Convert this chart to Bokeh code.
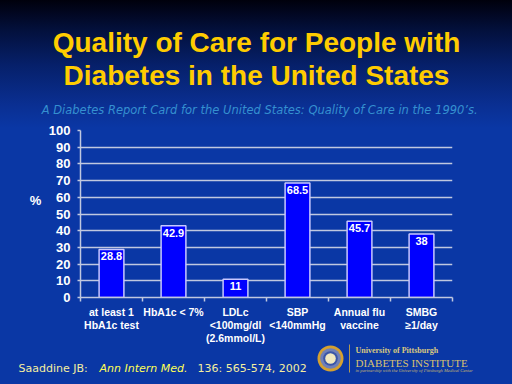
from bokeh.plotting import figure
from bokeh.models import Range1d, LinearAxis, FixedTicker
from bokeh.embed import file_html
from bokeh.resources import INLINE
from bokeh.core.properties import value

# ---------------- data ----------------
title_lines = ["Quality of Care for People with", "Diabetes in the United States"]
subtitle = "A Diabetes Report Card for the United States:  Quality of Care in the 1990\u2019s."
categories = ["at least 1\nHbA1c test", "HbA1c < 7%", "LDLc\n<100mg/dl\n(2.6mmol/L)",
              "SBP\n<140mmHg", "Annual flu\nvaccine", "SMBG\n\u22651/day"]
percent = [28.8, 42.9, 11, 68.5, 45.7, 38]
value_labels = [f"{v:g}" for v in percent]
y_ticks = list(range(0, 101, 10))
y_label = "%"
citation_author = "Saaddine JB:"
citation_journal = "Ann Intern Med."
citation_ref = "136: 565-574, 2002"
logo_lines = ["University of Pittsburgh", "DIABETES INSTITUTE",
              "in partnership with the University of Pittsburgh Medical Center"]

n = len(categories)
centers = [i + 0.5 for i in range(n)]   # bar slot centres
bounds = list(range(n + 1))             # slot boundaries (tick marks)

# ---------------- layout / style ----------------
W, H = 512, 384
FL, FR, FT, FB = 80, 452, 130, 297      # chart frame edges in page pixels
BG = "#0a37a5"
GRID = "#c0c8e0"
SANS = value("Liberation Sans")
SERIF = value("Liberation Serif")
DEJ = value("DejaVu Sans")

css_bg = ("linear-gradient(to bottom, #00000c 0px, #03103c 30px, #06206a 65px, "
          "#0a2f92 105px, " + BG + " 128px, " + BG + " 100%)")

# ---------- background page: headline, subtitle, citation, logo ----------
bg = figure(width=W, height=H, x_range=Range1d(0, W), y_range=Range1d(H, 0),
            x_axis_location=None, y_axis_location=None, output_backend="svg",
            toolbar_location=None, min_border=0, background_fill_color=None,
            border_fill_color=None, outline_line_color=None)
bg.grid.visible = False
bg.styles = {"background": css_bg}

bg.text(x=[256, 256], y=[42, 75], text=title_lines, text_font=SANS,
        text_font_style="bold", text_font_size="28px", text_color="#ffcc00",
        text_align="center", text_baseline="alphabetic")
bg.text(x=[261], y=[109], text=[subtitle], text_font=DEJ, text_font_style="italic",
        text_font_size="11.5px", text_color="#3590d0", text_align="center",
        text_baseline="alphabetic")
bg.text(x=[35], y=[200], text=[y_label], text_font=SANS, text_font_style="bold",
        text_font_size="13px", text_color="white", text_align="center",
        text_baseline="middle")
bg.text(x=[18], y=[368], text=[citation_author], text_font=DEJ,
        text_font_size="11px", text_color="#f4eea0", text_baseline="alphabetic")
bg.text(x=[99], y=[368], text=[citation_journal], text_font=DEJ,
        text_font_style="italic", text_font_size="11px", text_color="#ffff55",
        text_baseline="alphabetic")
bg.text(x=[197], y=[368], text=[citation_ref], text_font=DEJ,
        text_font_size="11px", text_color="#f4eea0", text_baseline="alphabetic")
# logo seal (decoration)
for r, c in [(13, "#d4a030"), (10.3, "#7080b8"), (7.3, "#3a55a8"), (5.3, "#f0e8c0")]:
    bg.circle(x=[330], y=[358], radius=r, fill_color=c, line_color=None)
bg.segment(x0=[349], y0=[344], x1=[349], y1=[372], line_color="#b09850", line_width=1)
bg.text(x=[355], y=[350], text=[logo_lines[0]], text_font=SERIF, text_font_style="bold",
        text_font_size="8px", text_color="#d8c880", text_baseline="alphabetic")
bg.text(x=[355], y=[362], text=[logo_lines[1]], text_font=SERIF,
        text_font_size="11px", text_color="#d8c070", text_baseline="alphabetic")
bg.text(x=[355], y=[370], text=[logo_lines[2]], text_font=SERIF, text_font_style="italic",
        text_font_size="4.6px", text_color="#c8b870", text_baseline="alphabetic")

# ---------------- chart, overlaid on the page ----------------
p = figure(width=W, height=H, x_range=Range1d(0, n), y_range=Range1d(0, 100),
           x_axis_location=None, output_backend="svg", toolbar_location=None,
           min_border_left=FL, min_border_right=W - FR, min_border_top=FT,
           min_border_bottom=H - FB, background_fill_color=None, border_fill_color=None)
p.styles = {"position": "absolute", "top": "0px", "left": "0px"}
p.outline_line_color = None
p.xgrid.visible = False
p.ygrid.ticker = FixedTicker(ticks=y_ticks)
p.ygrid.grid_line_color = GRID
p.ygrid.grid_line_width = 1.5

p.yaxis.ticker = FixedTicker(ticks=y_ticks)
p.yaxis.axis_line_color = GRID
p.yaxis.axis_line_width = 1.5
p.yaxis.major_tick_line_color = GRID
p.yaxis.major_tick_line_width = 1.5
p.yaxis.major_tick_out = 3
p.yaxis.major_tick_in = 0
p.yaxis.minor_tick_line_color = None
p.yaxis.major_label_standoff = 7
p.yaxis.major_label_text_color = "white"
p.yaxis.major_label_text_font = "Liberation Sans"
p.yaxis.major_label_text_font_style = "bold"
p.yaxis.major_label_text_font_size = "13px"

xaxis = LinearAxis(ticker=FixedTicker(ticks=centers, minor_ticks=bounds),
                   major_label_overrides={c: lab for c, lab in zip(centers, categories)},
                   axis_line_color=GRID, axis_line_width=1.5,
                   major_tick_line_color=None, major_tick_out=0, major_tick_in=0,
                   minor_tick_line_color=GRID, minor_tick_line_width=1.5,
                   minor_tick_out=4, minor_tick_in=0,
                   major_label_standoff=4,
                   major_label_text_color="white",
                   major_label_text_font="Liberation Sans",
                   major_label_text_font_size="10.5px",
                   major_label_text_font_style="bold",
                   major_label_text_line_height=1.1,
                   major_label_orientation="horizontal")
p.add_layout(xaxis, "below")

p.vbar(x=centers, top=percent, width=0.4, fill_color="#0000ff",
       line_color="#c8c8ff", line_width=1.5)
p.text(x=centers, y=percent, text=value_labels, y_offset=3, text_baseline="top",
       text_align="center", text_color="white", text_font=SANS,
       text_font_style="bold", text_font_size="11px")

open("out.html", "w").write(file_html([bg, p], INLINE))
